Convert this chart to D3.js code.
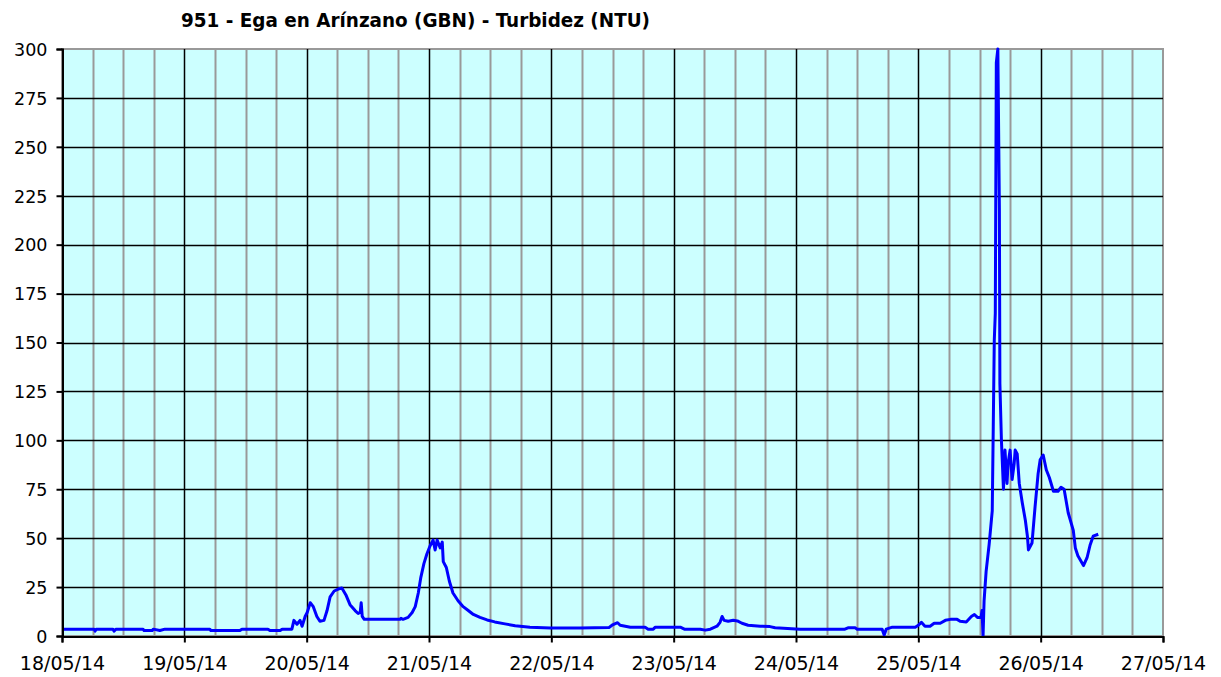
<!DOCTYPE html>
<html>
<head>
<meta charset="utf-8">
<script src="https://cdn.jsdelivr.net/npm/d3@7"></script>
<style>
  body { margin: 0; background: #fff; }
  svg text { font-family: "DejaVu Sans", Verdana, sans-serif; fill: #000; }
</style>
</head>
<body>
<div id="chart"></div>
<script>
// hours since 18/05/2014 00:00 and turbidity (NTU)
var hours = [0, 6.3, 6.5, 6.7, 10, 10.2, 10.6, 15.9, 16.1, 17.7, 17.9, 19.2, 20.2, 29, 29.2, 34.9, 35.3,
    40.4, 40.8, 42.8, 43.2, 45.1, 45.5, 46.1, 46.7, 47.1, 47.7, 48.1, 48.7, 49.3, 50, 50.6, 51.4, 52,
    52.6, 53.4, 54.2, 54.9, 55.7, 56.5, 57.5, 58.1, 58.5, 58.7, 58.9, 59.3, 66.3, 66.5, 66.9, 67.9,
    68.7, 69.3, 69.9, 70.4, 71, 71.6, 72.2, 72.8, 73.2, 73.6, 74.2, 74.6, 74.8, 75.4, 76, 76.7, 77.7,
    78.7, 79.7, 80.7, 82, 83.4, 84.9, 86.9, 88.9, 91.8, 95.8, 101.6, 107.3, 107.9, 109, 109.5, 111.5,
    114.4, 115, 116, 116.4, 121.3, 122.1, 125.2, 126.2, 127.2, 128.5, 129.1, 129.5, 129.9, 130.7,
    131.7, 132.5, 133.4, 134.6, 137, 138.9, 139.9, 144.8, 153.6, 154.2, 155.6, 156, 160.9, 161.3,
    161.7, 162.9, 167.4, 168, 168.6, 169.3, 170.3, 171.1, 172.3, 173.3, 174.3, 175.6, 176.2, 177.4,
    178.4, 179, 179.6, 180.3, 180.5, 180.7, 180.9, 181.3, 181.9, 182.5, 182.7, 182.9, 183.1, 183.3,
    183.6, 183.9, 184, 184.3, 184.7, 185, 185.4, 185.6, 186, 186.4, 186.8, 187, 187.4, 187.8, 188.4,
    189, 189.4, 189.6, 190.3, 190.9, 191.5, 191.9, 192.5, 193.1, 193.7, 194.5, 195.4, 196, 196.6,
    197.4, 198.4, 198.8, 199.3, 200.4, 201.1, 201.7, 202.3, 203.3];
var turbidity = [3.5, 3.5, 2.5, 3.5, 3.5, 2.5, 3.5, 3.5, 2.8, 2.8, 3.5, 2.8, 3.5, 3.5, 2.8, 2.8, 3.5,
    3.5, 2.8, 2.8, 3.5, 3.5, 8, 6, 8, 5, 10, 12, 17, 15, 10, 7.5, 8, 13,
    20, 23, 24, 24.5, 21, 16, 13, 11.5, 12, 17, 10, 8.5, 8.5, 9, 8.5, 9.5,
    12, 15, 22, 30, 37, 42, 46, 49, 44, 49, 45, 48, 38, 35, 28, 22, 18,
    15, 13, 11, 9.5, 8.2, 7.2, 6.2, 5.2, 4.5, 4.1, 4.1, 4.3, 5.5, 6.8, 5.5, 4.5,
    4.5, 3.5, 3.5, 4.5, 4.5, 3.5, 3.5, 3, 3.5, 5, 7, 10, 8, 7.5,
    8, 7.7, 6.5, 5.5, 5, 4.8, 4.2, 3.5, 3.5, 4.2, 4.2, 3.5, 3.5, 0.5,
    3.5, 4.5, 4.5, 5.5, 7, 5, 5, 6.5, 6.5, 8, 8.5, 8.5, 7.5, 7.2,
    10, 11, 9.5, 9.5, 13, 0, 18, 33, 47, 64, 107, 151, 165, 293,
    300, 218, 129, 100, 75, 95, 78, 88, 95, 80, 88, 95, 93, 78, 68,
    59, 51, 44, 47.5, 66, 83, 90, 92.5, 85, 81, 74, 74, 76, 75,
    63, 54, 45, 41, 36, 40, 46.5, 51, 52];
var yTicks = [0, 25, 50, 75, 100, 125, 150, 175, 200, 225, 250, 275, 300];
var dayLabels = ["18/05/14", "19/05/14", "20/05/14", "21/05/14", "22/05/14",
    "23/05/14", "24/05/14", "25/05/14", "26/05/14", "27/05/14"];
var title = "951 - Ega en Arínzano (GBN) - Turbidez (NTU)";

var width = 1221, height = 677;
var margin = {top: 49, right: 58, bottom: 41, left: 62};
var start = new Date(2014, 4, 18);
var hourMs = 3600 * 1000;

var data = hours.map(function (h, i) {
    return {date: new Date(start.getTime() + h * hourMs), value: turbidity[i]};
});
var days = dayLabels.map(function (d, i) { return new Date(start.getTime() + i * 24 * hourMs); });
var quarters = d3.range(0, 9 * 24 + 1, 6).map(function (h) { return new Date(start.getTime() + h * hourMs); });

var x = d3.scaleTime()
    .domain([days[0], days[days.length - 1]])
    .range([margin.left, width - margin.right]);
var y = d3.scaleLinear()
    .domain([0, 300])
    .range([height - margin.bottom, margin.top]);

var svg = d3.select("#chart").append("svg")
    .attr("width", width)
    .attr("height", height);

svg.append("rect")
    .attr("x", x.range()[0])
    .attr("y", y.range()[1])
    .attr("width", x.range()[1] - x.range()[0])
    .attr("height", y.range()[0] - y.range()[1])
    .attr("fill", "#ccffff")
    .attr("stroke", "#999")
    .attr("stroke-width", 2);

// 6-hour grid lines
svg.append("g").selectAll("line")
    .data(quarters.filter(function (d, i) { return i % 4 != 0; }))
    .enter().append("line")
    .attr("x1", function (d) { return Math.round(x(d)) + 0.5; })
    .attr("x2", function (d) { return Math.round(x(d)) + 0.5; })
    .attr("y1", y.range()[1])
    .attr("y2", y.range()[0])
    .attr("stroke", "#999")
    .attr("stroke-width", 2);

// day grid lines
svg.append("g").selectAll("line")
    .data(days.slice(1, -1))
    .enter().append("line")
    .attr("x1", function (d) { return Math.round(x(d)) + 0.5; })
    .attr("x2", function (d) { return Math.round(x(d)) + 0.5; })
    .attr("y1", y.range()[1])
    .attr("y2", y.range()[0])
    .attr("stroke", "#000")
    .attr("stroke-width", 1.5);

// value grid lines
svg.append("g").selectAll("line")
    .data(yTicks.slice(1, -1))
    .enter().append("line")
    .attr("x1", x.range()[0])
    .attr("x2", x.range()[1])
    .attr("y1", function (d) { return Math.round(y(d)) + 0.5; })
    .attr("y2", function (d) { return Math.round(y(d)) + 0.5; })
    .attr("stroke", "#000")
    .attr("stroke-width", 1.5);

svg.append("clipPath").attr("id", "plot")
    .append("rect")
    .attr("x", x.range()[0])
    .attr("y", y.range()[1] - 2)
    .attr("width", x.range()[1] - x.range()[0])
    .attr("height", y.range()[0] - y.range()[1] + 2);

var line = d3.line()
    .x(function (d) { return x(d.date); })
    .y(function (d) { return y(d.value); });

svg.append("path")
    .datum(data)
    .attr("clip-path", "url(#plot)")
    .attr("fill", "none")
    .attr("stroke", "#0000ff")
    .attr("stroke-width", 3)
    .attr("stroke-linejoin", "round")
    .attr("d", line);

var yAxis = svg.append("g")
    .attr("transform", "translate(" + (margin.left + 0.5) + ",0)")
    .call(d3.axisLeft(y).tickValues(yTicks).tickSize(6).tickPadding(9));
var xAxis = svg.append("g")
    .attr("transform", "translate(0," + (height - margin.bottom + 0.5) + ")")
    .call(d3.axisBottom(x).tickValues(days).tickSize(6).tickPadding(14)
        .tickFormat(function (d, i) { return dayLabels[i]; }));

[yAxis, xAxis].forEach(function (g) {
    g.select(".domain").attr("stroke", "#000").attr("stroke-width", 2);
    g.selectAll(".tick line").attr("stroke", "#000").attr("stroke-width", 2);
    g.selectAll(".tick text").attr("fill", "#222")
        .style("font-family", "'DejaVu Sans', Verdana, sans-serif");
});
yAxis.selectAll(".tick text").attr("font-size", 17.5).attr("dy", "0.36em");
xAxis.selectAll(".tick text").attr("font-size", 19).attr("dy", "0.71em");

svg.append("text")
    .attr("x", 181)
    .attr("y", 27)
    .attr("textLength", 469)
    .attr("lengthAdjust", "spacingAndGlyphs")
    .attr("font-size", 20)
    .attr("font-weight", "bold")
    .attr("fill", "#222")
    .style("font-family", "'DejaVu Sans Condensed', 'DejaVu Sans', sans-serif")
    .text(title);
</script>
</body>
</html>
